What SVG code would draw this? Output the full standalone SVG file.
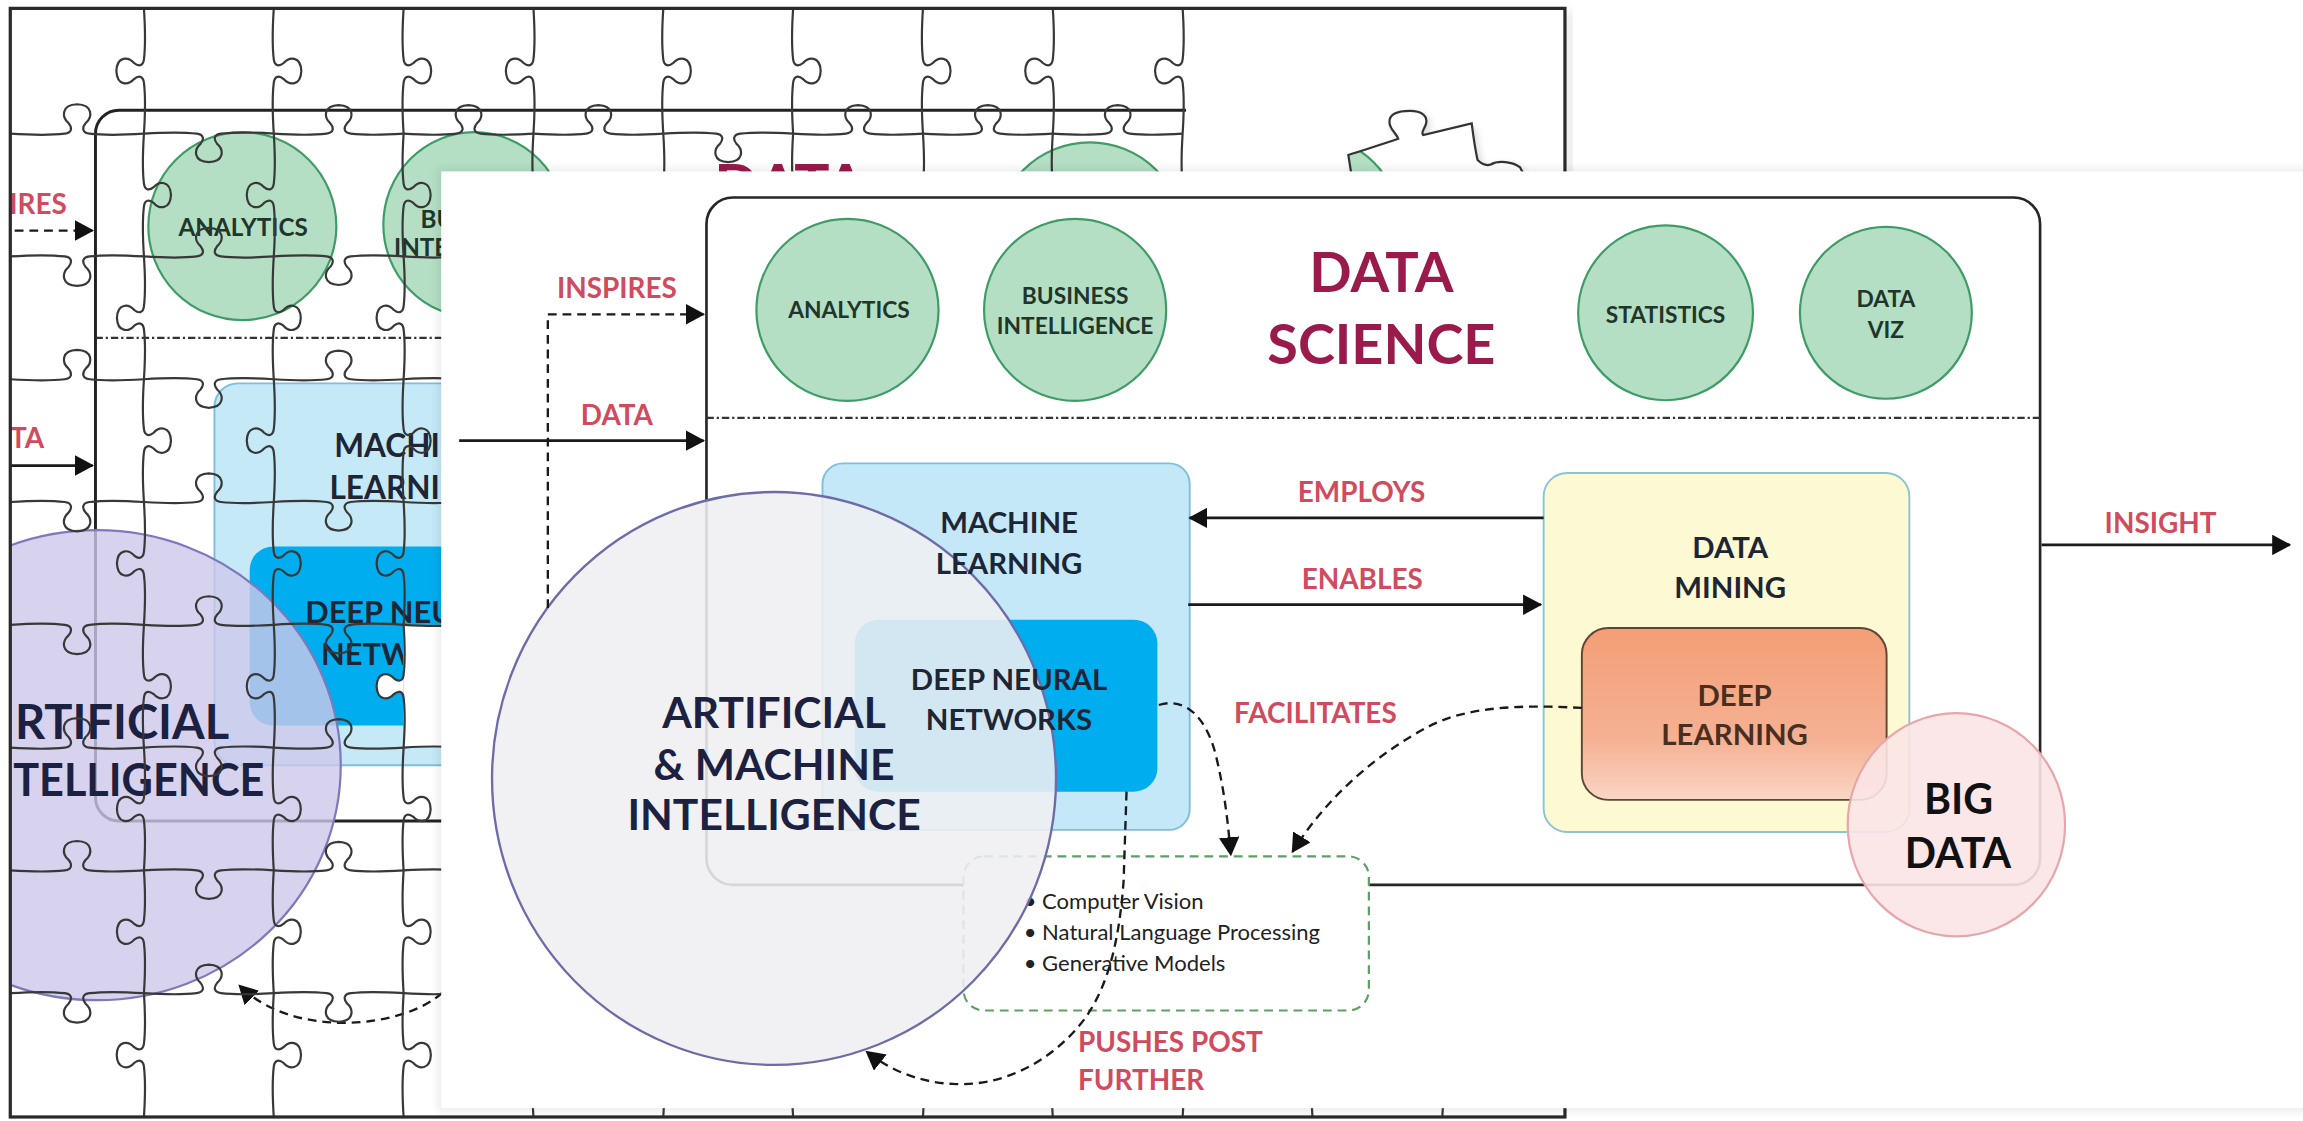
<svg xmlns="http://www.w3.org/2000/svg" xmlns:xlink="http://www.w3.org/1999/xlink" width="2303" height="1121" viewBox="0 0 2303 1121">
<defs>
<style>
.t{font-family:Lato,"Liberation Sans","DejaVu Sans",sans-serif;font-weight:700;text-anchor:middle}
.lb{fill:#d14b5f;font-size:19px}
.ci{fill:#22352b;font-size:15.5px}
.bx{fill:#1e2534;font-size:20px}
.ai{fill:#1c2142;font-size:29px}
.tt{fill:#9a1a4b;font-size:38px}
.bu{font-family:Lato,"Liberation Sans",sans-serif;font-size:15px;fill:#222}
.ln{fill:none;stroke:#1a1a1a;stroke-width:1.8}
.dl{fill:none;stroke:#1a1a1a;stroke-width:1.6;stroke-dasharray:6 4}
.gc{fill:#b4dfc5;stroke:#3f9c66;stroke-width:1.5}
.dd{fill:none;stroke:#333;stroke-width:1.5;stroke-dasharray:5 2 1.5 2}
</style>
<path id="pz" d="M0,0 C14,0.9 29,1.4 40.7,0 C46.4,-0.7 46.4,-4.5 43.6,-7.9 C38.5,-12.4 37.9,-21.5 50,-22 C62.1,-21.5 61.5,-12.4 56.4,-7.9 C53.6,-4.5 53.6,-0.7 59.3,0 C71,1.4 86,0.9 100,0" fill="none" stroke="#383838" stroke-width="2.2" vector-effect="non-scaling-stroke"/>
<path id="pzf" d="M0,0 C14,0.9 29,1.4 40.7,0 C46.4,-0.7 46.4,-4.5 43.6,-7.9 C38.5,-12.4 37.9,-21.5 50,-22 C62.1,-21.5 61.5,-12.4 56.4,-7.9 C53.6,-4.5 53.6,-0.7 59.3,0 C71,1.4 86,0.9 100,0 Z" fill="#fff"/>
<marker id="ah" viewBox="0 0 13 14" refX="12" refY="7" markerWidth="13" markerHeight="14" markerUnits="userSpaceOnUse" orient="auto"><path d="M0,0 L13,7 L0,14 Z" fill="#111"/></marker>
<linearGradient id="dlg" x1="0" y1="0" x2="0" y2="1"><stop offset="0" stop-color="#f39e76"/><stop offset=".65" stop-color="#f5b193"/><stop offset="1" stop-color="#fad6c6"/></linearGradient>
<clipPath id="fr"><rect x="7" y="5.7" width="1058.5" height="754.8"/></clipPath>
<clipPath id="fp"><path d="M920,118 L918,105.5 C932,101 942,98 952,94.5 C951,91 946,88 946,83 C946,77 953,75.5 960,75.5 C968,75.5 972,79 971,84 C970,88 967,90 969,92 L1002,84 C1003,92 1004,100 1006,109 C1009,112 1012,113 1015,112 C1020,109 1030,110 1035,114 L1037,118 Z"/></clipPath>
<filter id="sh" x="-10%" y="-10%" width="120%" height="120%"><feGaussianBlur stdDeviation="3"/></filter>
</defs>
<rect width="2303" height="1121" fill="#fff"/>
<g transform="scale(1.46875)">

<g id="puzzle-background" clip-path="url(#fr)">
<rect x="7" y="5.7" width="1058.5" height="754.8" fill="#fff"/>
<rect x="65" y="75" width="1000" height="484" rx="16" fill="none" stroke="#222" stroke-width="2"/>
<line class="dd" x1="65" y1="230" x2="1065" y2="230"/>
<ellipse class="gc" cx="165" cy="154" rx="64" ry="64"/>
<text class="t ci" x="165.5" y="160.5" style="font-size:16.5px">ANALYTICS</text>
<ellipse class="gc" cx="323" cy="153" rx="62" ry="63"/>
<text class="t ci" x="325" y="155" style="font-size:16.5px">BUSINESS</text>
<text class="t ci" x="325" y="174" style="font-size:16.5px">INTELLIGENCE</text>
<ellipse class="gc" cx="742" cy="161" rx="64" ry="64"/>
<text class="t tt" x="538" y="141" style="font-size:40px">DATA</text>
<path class="dl" d="M-10,157 H63" marker-end="url(#ah)"/>
<path class="ln" d="M-10,317 H63" marker-end="url(#ah)"/>
<rect x="146" y="261" width="262" height="260" rx="16" fill="#c6e9f8" stroke="#7dbfdc" stroke-width="1.3"/>
<rect x="170" y="372" width="216" height="122" rx="16" fill="#00adee"/>
<ellipse cx="66" cy="521" rx="166" ry="160" fill="#cdc8ea" fill-opacity=".8" stroke="#7f78bd" stroke-width="1.5"/>
<text class="t bx" x="278" y="311" style="font-size:21.5px">MACHINE</text>
<text class="t bx" x="278" y="340" style="font-size:21.5px">LEARNING</text>
<text class="t bx" x="278" y="424" style="font-size:21px">DEEP NEURAL</text>
<text class="t bx" x="278" y="453" style="font-size:21px">NETWORKS</text>
<path class="dl" d="M301,676 C275,700 200,708 163,671" marker-end="url(#ah)"/>
<rect x="274.8" y="425.4" width="88.4" height="83.6" fill="#fff"/>
<use xlink:href="#pzf" transform="translate(274.8,425.4) rotate(90) scale(.836,-.836)"/>
<rect x="807.5" y="6" width="260" height="111" fill="#fff"/>
</g>
<g id="puzzle-background-labels">
<text class="t lb" x="45.5" y="146" style="text-anchor:end">IRES</text>
<text class="t lb" x="30" y="305" style="text-anchor:end">TA</text>
<text class="t ai" x="156" y="503" style="font-size:32px;text-anchor:end">RTIFICIAL</text>
<text class="t ai" x="9" y="542" textLength="171" lengthAdjust="spacingAndGlyphs" style="font-size:31px;text-anchor:start">TELLIGENCE</text>
</g>

<g id="puzzle-cuts" clip-path="url(#fr)">
<use xlink:href="#pz" transform="translate(7,91) scale(.91,.91)"/>
<use xlink:href="#pz" transform="translate(98,91) scale(.884,-.884)"/>
<use xlink:href="#pz" transform="translate(186.4,91) scale(.884,.884)"/>
<use xlink:href="#pz" transform="translate(274.8,91) scale(.884,.884)"/>
<use xlink:href="#pz" transform="translate(363.2,91) scale(.884,.884)"/>
<use xlink:href="#pz" transform="translate(451.6,91) scale(.884,-.884)"/>
<use xlink:href="#pz" transform="translate(540,91) scale(.884,.884)"/>
<use xlink:href="#pz" transform="translate(628.4,91) scale(.884,.884)"/>
<use xlink:href="#pz" transform="translate(716.8,91) scale(.884,.884)"/>

<use xlink:href="#pz" transform="translate(7,174.6) scale(.91,-.91)"/>
<use xlink:href="#pz" transform="translate(98,174.6) scale(.884,.884)"/>
<use xlink:href="#pz" transform="translate(186.4,174.6) scale(.884,-.884)"/>
<use xlink:href="#pz" transform="translate(274.8,174.6) scale(.884,.884)"/>
<use xlink:href="#pz" transform="translate(7,258.2) scale(.91,.91)"/>
<use xlink:href="#pz" transform="translate(98,258.2) scale(.884,-.884)"/>
<use xlink:href="#pz" transform="translate(186.4,258.2) scale(.884,.884)"/>
<use xlink:href="#pz" transform="translate(274.8,258.2) scale(.884,-.884)"/>
<use xlink:href="#pz" transform="translate(7,341.8) scale(.91,-.91)"/>
<use xlink:href="#pz" transform="translate(98,341.8) scale(.884,.884)"/>
<use xlink:href="#pz" transform="translate(186.4,341.8) scale(.884,-.884)"/>
<use xlink:href="#pz" transform="translate(274.8,341.8) scale(.884,.884)"/>
<use xlink:href="#pz" transform="translate(7,425.4) scale(.91,-.91)"/>
<use xlink:href="#pz" transform="translate(98,425.4) scale(.884,.884)"/>
<use xlink:href="#pz" transform="translate(186.4,425.4) scale(.884,-.884)"/>
<use xlink:href="#pz" transform="translate(274.8,425.4) scale(.884,.884)"/>
<use xlink:href="#pz" transform="translate(7,509) scale(.91,.91)"/>
<use xlink:href="#pz" transform="translate(98,509) scale(.884,-.884)"/>
<use xlink:href="#pz" transform="translate(186.4,509) scale(.884,.884)"/>
<use xlink:href="#pz" transform="translate(274.8,509) scale(.884,-.884)"/>
<use xlink:href="#pz" transform="translate(7,592.6) scale(.91,.91)"/>
<use xlink:href="#pz" transform="translate(98,592.6) scale(.884,-.884)"/>
<use xlink:href="#pz" transform="translate(186.4,592.6) scale(.884,.884)"/>
<use xlink:href="#pz" transform="translate(274.8,592.6) scale(.884,-.884)"/>
<use xlink:href="#pz" transform="translate(7,676.2) scale(.91,-.91)"/>
<use xlink:href="#pz" transform="translate(98,676.2) scale(.884,.884)"/>
<use xlink:href="#pz" transform="translate(186.4,676.2) scale(.884,-.884)"/>
<use xlink:href="#pz" transform="translate(274.8,676.2) scale(.884,.884)"/>

<use xlink:href="#pz" transform="translate(98,5.7) rotate(90) scale(.853,-.853)"/>
<use xlink:href="#pz" transform="translate(98,91) rotate(90) scale(.836,.836)"/>
<use xlink:href="#pz" transform="translate(98,174.6) rotate(90) scale(.836,-.836)"/>
<use xlink:href="#pz" transform="translate(98,258.2) rotate(90) scale(.836,.836)"/>
<use xlink:href="#pz" transform="translate(98,341.8) rotate(90) scale(.836,-.836)"/>
<use xlink:href="#pz" transform="translate(98,425.4) rotate(90) scale(.836,.836)"/>
<use xlink:href="#pz" transform="translate(98,509) rotate(90) scale(.836,-.836)"/>
<use xlink:href="#pz" transform="translate(98,592.6) rotate(90) scale(.836,-.836)"/>
<use xlink:href="#pz" transform="translate(98,676.2) rotate(90) scale(.843,-.843)"/>

<use xlink:href="#pz" transform="translate(186.4,5.7) rotate(90) scale(.853,.853)"/>
<use xlink:href="#pz" transform="translate(186.4,91) rotate(90) scale(.836,-.836)"/>
<use xlink:href="#pz" transform="translate(186.4,174.6) rotate(90) scale(.836,.836)"/>
<use xlink:href="#pz" transform="translate(186.4,258.2) rotate(90) scale(.836,-.836)"/>
<use xlink:href="#pz" transform="translate(186.4,341.8) rotate(90) scale(.836,.836)"/>
<use xlink:href="#pz" transform="translate(186.4,425.4) rotate(90) scale(.836,-.836)"/>
<use xlink:href="#pz" transform="translate(186.4,509) rotate(90) scale(.836,.836)"/>
<use xlink:href="#pz" transform="translate(186.4,592.6) rotate(90) scale(.836,.836)"/>
<use xlink:href="#pz" transform="translate(186.4,676.2) rotate(90) scale(.843,.843)"/>

<use xlink:href="#pz" transform="translate(274.8,5.7) rotate(90) scale(.853,.853)"/>
<use xlink:href="#pz" transform="translate(274.8,91) rotate(90) scale(.836,.836)"/>
<use xlink:href="#pz" transform="translate(274.8,174.6) rotate(90) scale(.836,-.836)"/>
<use xlink:href="#pz" transform="translate(274.8,258.2) rotate(90) scale(.836,.836)"/>
<use xlink:href="#pz" transform="translate(274.8,341.8) rotate(90) scale(.836,-.836)"/>
<use xlink:href="#pz" transform="translate(274.8,425.4) rotate(90) scale(.836,-.836)"/>
<use xlink:href="#pz" transform="translate(274.8,509) rotate(90) scale(.836,.836)"/>
<use xlink:href="#pz" transform="translate(274.8,592.6) rotate(90) scale(.836,.836)"/>
<use xlink:href="#pz" transform="translate(274.8,676.2) rotate(90) scale(.843,.843)"/>

<use xlink:href="#pz" transform="translate(363.2,5.7) rotate(90) scale(.853,-.853)"/>
<use xlink:href="#pz" transform="translate(451.6,5.7) rotate(90) scale(.853,.853)"/>
<use xlink:href="#pz" transform="translate(540,5.7) rotate(90) scale(.853,.853)"/>
<use xlink:href="#pz" transform="translate(628.4,5.7) rotate(90) scale(.853,.853)"/>
<use xlink:href="#pz" transform="translate(716.8,5.7) rotate(90) scale(.853,-.853)"/>
<use xlink:href="#pz" transform="translate(805.2,5.7) rotate(90) scale(.853,-.853)"/>
<use xlink:href="#pz" transform="translate(363.2,91) rotate(90) scale(.836,.836)"/>
<use xlink:href="#pz" transform="translate(451.6,91) rotate(90) scale(.836,-.836)"/>
<use xlink:href="#pz" transform="translate(540,91) rotate(90) scale(.836,.836)"/>
<use xlink:href="#pz" transform="translate(628.4,91) rotate(90) scale(.836,-.836)"/>
<use xlink:href="#pz" transform="translate(716.8,91) rotate(90) scale(.836,.836)"/>
<use xlink:href="#pz" transform="translate(805.2,91) rotate(90) scale(.836,.836)"/>
<use xlink:href="#pz" transform="translate(363.2,676.2) rotate(90) scale(.843,.843)"/>
<use xlink:href="#pz" transform="translate(451.6,676.2) rotate(90) scale(.843,-.843)"/>
<use xlink:href="#pz" transform="translate(540,676.2) rotate(90) scale(.843,.843)"/>
<use xlink:href="#pz" transform="translate(628.4,676.2) rotate(90) scale(.843,-.843)"/>
<use xlink:href="#pz" transform="translate(716.8,676.2) rotate(90) scale(.843,.843)"/>
<use xlink:href="#pz" transform="translate(805.2,676.2) rotate(90) scale(.843,-.843)"/>
<use xlink:href="#pz" transform="translate(893.6,676.2) rotate(90) scale(.843,.843)"/>
<use xlink:href="#pz" transform="translate(982,676.2) rotate(90) scale(.843,-.843)"/>
</g>

<g id="loose-piece">
<path d="M920,118 L918,105.5 C932,101 942,98 952,94.5 C951,91 946,88 946,83 C946,77 953,75.5 960,75.5 C968,75.5 972,79 971,84 C970,88 967,90 969,92 L1002,84 C1003,92 1004,100 1006,109 C1009,112 1012,113 1015,112 C1020,109 1030,110 1035,114 L1037,118 Z" transform="translate(2,2)" fill="#000" opacity=".18" filter="url(#sh)"/>
<path d="M920,118 L918,105.5 C932,101 942,98 952,94.5 C951,91 946,88 946,83 C946,77 953,75.5 960,75.5 C968,75.5 972,79 971,84 C970,88 967,90 969,92 L1002,84 C1003,92 1004,100 1006,109 C1009,112 1012,113 1015,112 C1020,109 1030,110 1035,114 L1037,118 Z" fill="#fff"/>
<circle cx="893" cy="153" r="60" clip-path="url(#fp)" class="gc"/>
<path d="M920,118 L918,105.5 C932,101 942,98 952,94.5 C951,91 946,88 946,83 C946,77 953,75.5 960,75.5 C968,75.5 972,79 971,84 C970,88 967,90 969,92 L1002,84 C1003,92 1004,100 1006,109 C1009,112 1012,113 1015,112 C1020,109 1030,110 1035,114 L1037,118" fill="none" stroke="#333" stroke-width="1.5"/>
</g>

<g id="frame">
<rect x="1067" y="8" width="3" height="112" fill="#888" opacity=".35" filter="url(#sh)"/>
<rect x="7" y="5.7" width="1058.5" height="754.8" fill="none" stroke="#2a2a2a" stroke-width="2.2"/>
</g>

<g id="front-panel">
<rect x="298" y="114.7" width="1290" height="642" fill="#000" opacity=".08" filter="url(#sh)"/>
<rect x="300.4" y="116.7" width="1290" height="637.8" fill="#fff"/>
</g>

<g id="data-science">
<rect x="481" y="134.5" width="908" height="468" rx="18" fill="#fff" stroke="#262626" stroke-width="1.8"/>
<line class="dd" x1="481" y1="284.5" x2="1389" y2="284.5"/>
<text class="t tt" x="940.5" y="199">DATA</text>
<text class="t tt" x="940.5" y="248">SCIENCE</text>
</g>
<g id="analytics"><ellipse class="gc" cx="577" cy="211" rx="62" ry="62"/><text class="t ci" x="578" y="216.5">ANALYTICS</text></g>
<g id="business-intelligence"><ellipse class="gc" cx="732" cy="211" rx="62" ry="62"/><text class="t ci" x="732" y="207">BUSINESS</text><text class="t ci" x="732" y="227.5">INTELLIGENCE</text></g>
<g id="statistics"><ellipse class="gc" cx="1134" cy="213" rx="59.5" ry="59.5"/><text class="t ci" x="1134" y="220">STATISTICS</text></g>
<g id="data-viz"><ellipse class="gc" cx="1284" cy="213" rx="58.5" ry="58.5"/><text class="t ci" x="1284" y="209">DATA</text><text class="t ci" x="1284" y="230">VIZ</text></g>

<g id="machine-learning"><rect x="560" y="315.5" width="250" height="249.5" rx="14" fill="#c4e8f8" stroke="#7dbfdc" stroke-width="1.3"/></g>
<g id="deep-neural-networks"><rect x="582" y="422" width="206" height="117" rx="16" fill="#00adee"/></g>
<g id="data-mining"><rect x="1051" y="322" width="249" height="244.5" rx="16" fill="#fdf9d2" stroke="#8dc3d4" stroke-width="1.3"/><text class="t bx" x="1178" y="380">DATA</text><text class="t bx" x="1178" y="407">MINING</text></g>
<g id="deep-learning"><rect x="1077" y="427.6" width="207.5" height="117" rx="18" fill="url(#dlg)" stroke="#5e4536" stroke-width="1.3"/><text class="t bx" x="1181" y="481" style="fill:#4a2e20">DEEP</text><text class="t bx" x="1181" y="507" style="fill:#4a2e20">LEARNING</text></g>
<g id="applications">
<rect x="656" y="583" width="276" height="105" rx="14" fill="#fff" stroke="#5f9f64" stroke-width="1.5" stroke-dasharray="6 4"/>
<text class="bu" x="697" y="619">• Computer Vision</text>
<text class="bu" x="697" y="640">• Natural Language Processing</text>
<text class="bu" x="697" y="661">• Generative Models</text>
</g>
<g id="artificial-machine-intelligence">
<ellipse cx="527" cy="530" rx="192" ry="195" fill="#efeff1" fill-opacity=".88" stroke="#6e6ca8" stroke-width="1.6"/>
<text class="t ai" x="527" y="496">ARTIFICIAL</text>
<text class="t ai" x="527" y="531">&amp; MACHINE</text>
<text class="t ai" x="527" y="565">INTELLIGENCE</text>
</g>
<g id="ml-dnn-labels">
<text class="t bx" x="687" y="363">MACHINE</text>
<text class="t bx" x="687" y="391">LEARNING</text>
<text class="t bx" x="687" y="470">DEEP NEURAL</text>
<text class="t bx" x="687" y="497">NETWORKS</text>
</g>
<g id="big-data"><ellipse cx="1332" cy="561.5" rx="74" ry="76" fill="#fbe4e5" fill-opacity=".9" stroke="#e6a6aa" stroke-width="1.5"/><text class="t" x="1333.5" y="554" style="font-size:28px;fill:#111">BIG</text><text class="t" x="1333" y="591" style="font-size:28px;fill:#111">DATA</text></g>

<g id="connectors">
<path class="dl" d="M373,414 V214 H479" marker-end="url(#ah)"/>
<path class="ln" d="M312.6,300 H479" marker-end="url(#ah)"/>
<path class="ln" d="M1051,352.6 H810" marker-end="url(#ah)"/>
<path class="ln" d="M809,411.7 H1049" marker-end="url(#ah)"/>
<path class="ln" d="M1390,371 H1559" marker-end="url(#ah)"/>
<path class="dl" d="M789,480 C808,474 822,490 828,515 C834,540 836,560 838,582" marker-end="url(#ah)"/>
<path class="dl" d="M1077,482 C1040,480 1000,480 972,495 C940,512 905,540 880,580" marker-end="url(#ah)"/>
<path class="dl" d="M767,539 L765,600 C762,640 755,670 739,693 C715,725 680,740 649,738 C625,737 605,728 590,716" marker-end="url(#ah)"/>
<text class="t lb" x="420" y="203">INSPIRES</text>
<text class="t lb" x="420" y="289.5">DATA</text>
<text class="t lb" x="927" y="341.7">EMPLOYS</text>
<text class="t lb" x="927.5" y="400.7">ENABLES</text>
<text class="t lb" x="895.6" y="492">FACILITATES</text>
<text class="t lb" x="1471" y="363">INSIGHT</text>
<text class="t lb" x="734" y="716" style="text-anchor:start">PUSHES POST</text>
<text class="t lb" x="734" y="742" style="text-anchor:start">FURTHER</text>
</g>
</g>
</svg>
